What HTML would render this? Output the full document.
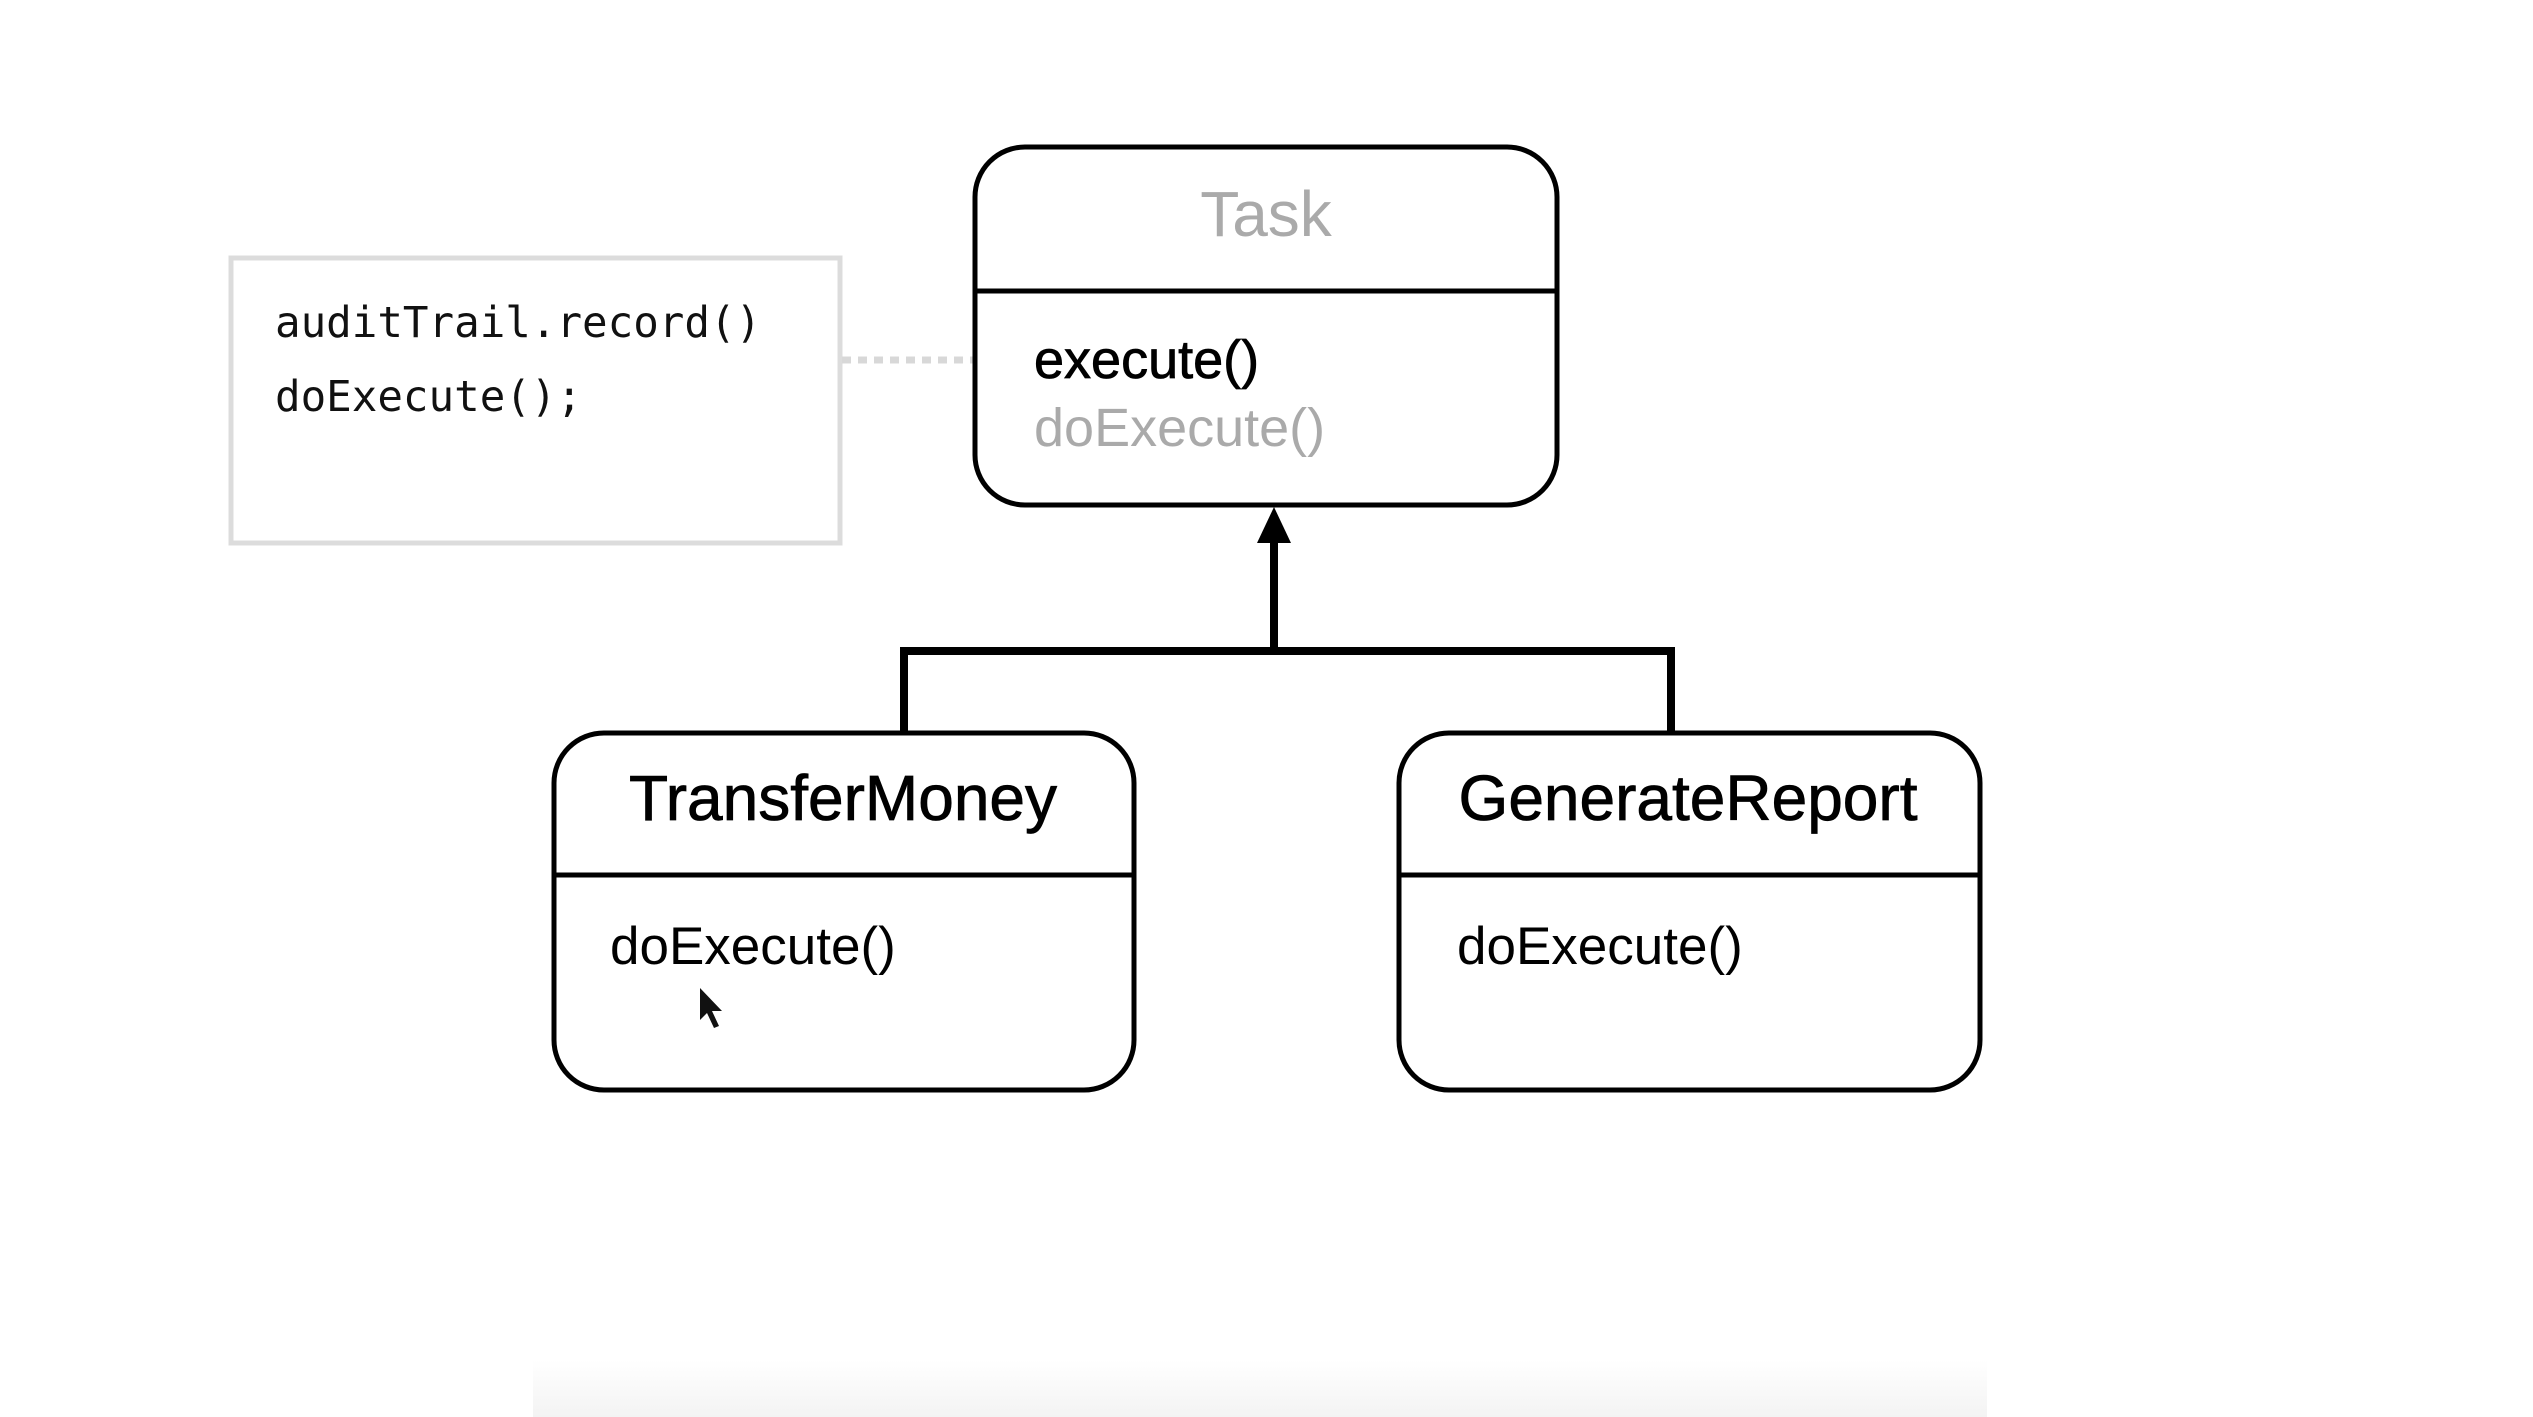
<!DOCTYPE html>
<html><head><meta charset="utf-8"><style>
html,body{margin:0;padding:0;background:#fff;}
svg{display:block}
text{font-family:"Liberation Sans",sans-serif;}
.mono{font-family:"DejaVu Sans Mono","Liberation Mono",monospace;}
</style></head><body>
<svg width="2533" height="1417" viewBox="0 0 2533 1417" xmlns="http://www.w3.org/2000/svg">
<defs><linearGradient id="g" x1="0" y1="0" x2="0" y2="1"><stop offset="0" stop-color="#fff"/><stop offset="1" stop-color="#f3f3f3"/></linearGradient></defs>
<rect x="533" y="1360" width="1454" height="57" fill="url(#g)"/>
<!-- note -->
<rect x="231" y="258" width="609" height="285" fill="#fff" stroke="#dcdcdc" stroke-width="5"/>
<text class="mono" x="275" y="337" font-size="42.5" fill="#111">auditTrail.record()</text>
<text class="mono" x="275" y="411" font-size="42.5" fill="#111">doExecute();</text>
<line x1="842" y1="360" x2="973" y2="360" stroke="#d8d8d8" stroke-width="7" stroke-dasharray="9,7"/>
<!-- Task -->
<rect x="975" y="147" width="582" height="358" rx="50" fill="#fff" stroke="#000" stroke-width="5"/>
<line x1="975" y1="291" x2="1557" y2="291" stroke="#000" stroke-width="5"/>
<text x="1266" y="236" font-size="64" fill="#aaa" text-anchor="middle">Task</text>
<text x="1034" y="378" font-size="54" fill="#000" stroke="#000" stroke-width="0.8">execute()</text>
<text x="1034" y="446" font-size="54" fill="#aaa">doExecute()</text>
<!-- connectors -->
<polyline points="904,733 904,651 1671,651 1671,733" fill="none" stroke="#000" stroke-width="8"/>
<line x1="1274" y1="651" x2="1274" y2="535" stroke="#000" stroke-width="8"/>
<polygon points="1274,507 1257,543 1291,543" fill="#000"/>
<!-- TransferMoney -->
<rect x="554" y="733" width="580" height="357" rx="50" fill="#fff" stroke="#000" stroke-width="5"/>
<line x1="554" y1="875" x2="1134" y2="875" stroke="#000" stroke-width="5"/>
<text x="843" y="820" font-size="64" fill="#000" text-anchor="middle" stroke="#000" stroke-width="0.8">TransferMoney</text>
<text x="610" y="964" font-size="53" fill="#000">doExecute()</text>
<polygon points="700,988 700,1020 707,1013 714,1028 719,1026 712,1011 722,1011" fill="#111"/>
<!-- GenerateReport -->
<rect x="1399" y="733" width="581" height="357" rx="50" fill="#fff" stroke="#000" stroke-width="5"/>
<line x1="1399" y1="875" x2="1980" y2="875" stroke="#000" stroke-width="5"/>
<text x="1688" y="820" font-size="64" fill="#000" text-anchor="middle" stroke="#000" stroke-width="0.8">GenerateReport</text>
<text x="1457" y="964" font-size="53" fill="#000">doExecute()</text>
</svg>
</body></html>
